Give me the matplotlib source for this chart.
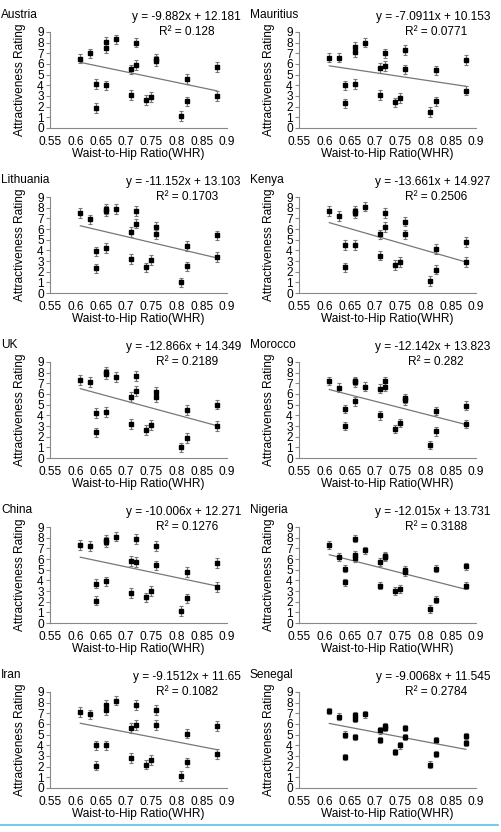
import matplotlib
matplotlib.use('Agg')
import matplotlib.pyplot as plt
import numpy as np

plt.rcParams['font.family'] = ['Liberation Sans', 'DejaVu Sans']

# waist-to-hip ratios of the 21 stimuli (same for every country)
whr = [0.61, 0.63, 0.64, 0.64, 0.66, 0.66, 0.66, 0.68, 0.71, 0.71, 0.72,
       0.72, 0.74, 0.75, 0.76, 0.76, 0.81, 0.82, 0.82, 0.88, 0.88]

countries = ['Austria', 'Mauritius', 'Lithuania', 'Kenya', 'UK',
             'Morocco', 'China', 'Nigeria', 'Iran', 'Senegal']

austria = [6.5, 7.0, 4.1, 1.9, 8.1, 7.5, 4.0, 8.3, 5.5, 3.1, 8.0,
           5.9, 2.6, 2.9, 6.5, 6.3, 1.1, 4.6, 2.5, 5.7, 3.0]
mauritius = [6.6, 6.6, 4.0, 2.3, 7.6, 7.1, 4.1, 8.0, 5.6, 3.1, 7.0,
             5.8, 2.4, 2.8, 7.3, 5.5, 1.5, 5.4, 2.5, 6.4, 3.5]
lithuania = [7.5, 6.9, 3.9, 2.3, 7.9, 7.7, 4.2, 7.9, 5.7, 3.2, 7.7,
             6.5, 2.4, 3.1, 6.2, 5.5, 1.0, 4.4, 2.5, 5.4, 3.4]
kenya = [7.7, 7.2, 4.5, 2.4, 7.7, 7.5, 4.5, 8.1, 5.5, 3.5, 7.5,
         6.2, 2.6, 2.9, 6.7, 5.5, 1.1, 4.1, 2.2, 4.8, 2.9]
uk = [7.3, 7.1, 4.2, 2.4, 8.1, 7.9, 4.3, 7.6, 5.7, 3.2, 7.7,
      6.3, 2.6, 3.1, 6.2, 5.7, 1.0, 4.5, 1.9, 5.0, 3.0]
morocco = [7.2, 6.6, 4.6, 3.0, 7.2, 7.1, 5.3, 6.7, 6.5, 4.0, 7.2,
           6.7, 2.7, 3.3, 5.6, 5.4, 1.2, 4.4, 2.5, 4.9, 3.2]
china = [7.3, 7.2, 3.7, 2.1, 7.8, 7.6, 3.9, 8.1, 5.8, 2.8, 7.9,
         5.7, 2.4, 3.0, 7.2, 5.4, 1.1, 4.8, 2.3, 5.6, 3.4]
nigeria = [7.3, 6.2, 5.1, 3.8, 7.9, 6.4, 6.1, 6.8, 5.7, 3.5, 6.3,
           6.2, 3.0, 3.2, 5.0, 4.8, 1.3, 5.1, 2.2, 5.3, 3.5]
iran = [7.1, 6.9, 4.0, 2.1, 7.8, 7.3, 4.0, 8.2, 5.6, 2.8, 7.8,
        5.9, 2.2, 2.6, 7.3, 5.9, 1.1, 5.1, 2.4, 5.8, 3.2]
senegal = [7.2, 6.7, 5.0, 2.9, 6.8, 6.5, 4.8, 6.9, 5.4, 4.5, 5.8,
           5.6, 3.4, 4.0, 5.6, 4.8, 2.2, 4.5, 3.2, 4.9, 4.2]

ratings = [austria, mauritius, lithuania, kenya, uk,
           morocco, china, nigeria, iran, senegal]
err = [0.45, 0.45, 0.45, 0.45, 0.45, 0.4, 0.45, 0.35, 0.45, 0.3]

slopes = [-9.882, -7.0911, -11.152, -13.661, -12.866,
          -12.142, -10.006, -12.015, -9.1512, -9.0068]
intercepts = [12.181, 10.153, 13.103, 14.927, 14.349,
              13.823, 12.271, 13.731, 11.65, 11.545]
eq_labels = ['y = -9.882x + 12.181', 'y = -7.0911x + 10.153',
             'y = -11.152x + 13.103', 'y = -13.661x + 14.927',
             'y = -12.866x + 14.349', 'y = -12.142x + 13.823',
             'y = -10.006x + 12.271', 'y = -12.015x + 13.731',
             'y = -9.1512x + 11.65', 'y = -9.0068x + 11.545']
r2_labels = ['R² = 0.128', 'R² = 0.0771', 'R² = 0.1703', 'R² = 0.2506',
             'R² = 0.2189', 'R² = 0.282', 'R² = 0.1276', 'R² = 0.3188',
             'R² = 0.1082', 'R² = 0.2784']

W, H = 501, 832
fig = plt.figure(figsize=(W / 100, H / 100), dpi=100)

axcol = '#888888'
fs = 8.6

for i, name in enumerate(countries):
    row, col = i // 2, i % 2
    x0 = 50 + col * 249
    y_top = 32 + row * 165
    ax = fig.add_axes([x0 / W, 1 - (y_top + 96) / H, 177 / W, 96 / H])
    ax.errorbar(whr, ratings[i], yerr=err[i], fmt='s', color='black',
                ms=2.2, ecolor='#777777', elinewidth=0.8, capsize=1.6,
                capthick=0.8)
    xs = np.array([0.61, 0.88])
    ax.plot(xs, slopes[i] * xs + intercepts[i], color='#777777', lw=0.9)
    ax.set_xlim(0.55, 0.9)
    ax.set_ylim(0, 9)
    ax.set_xticks([0.55, 0.6, 0.65, 0.7, 0.75, 0.8, 0.85, 0.9])
    ax.set_xticklabels(['0.55', '0.6', '0.65', '0.7', '0.75', '0.8', '0.85', '0.9'])
    ax.set_yticks(range(10))
    for s in ['top', 'right']:
        ax.spines[s].set_visible(False)
    for s in ['left', 'bottom']:
        ax.spines[s].set_color(axcol)
        ax.spines[s].set_linewidth(0.8)
    ax.tick_params(axis='y', length=3, width=0.8, color=axcol, pad=1.5,
                   labelsize=fs, direction='out')
    ax.tick_params(axis='x', length=0, pad=5.5, labelsize=fs)
    ax.set_xlabel('Waist-to-Hip Ratio(WHR)', fontsize=fs, labelpad=0)
    ax.set_ylabel('Attractiveness Rating', fontsize=fs, labelpad=8)
    ax.patch.set_alpha(0)

    fig.text((x0 - 49) / W, 1 - (row * 165 + 15) / H, name, fontsize=fs,
             ha='left', va='center')
    fig.text((x0 + 191) / W, 1 - (row * 165 + 17) / H, eq_labels[i],
             fontsize=fs, ha='right', va='center')
    fig.text((x0 + 137) / W, 1 - (row * 165 + 32) / H, r2_labels[i],
             fontsize=fs, ha='center', va='center')

# thin cyan rule at the bottom
fig.add_artist(plt.Line2D([0, 0.995], [1 - 825 / H, 1 - 825 / H],
                          color='#5bc0eb', lw=1.2))

fig.savefig('out.png', dpi=100)
